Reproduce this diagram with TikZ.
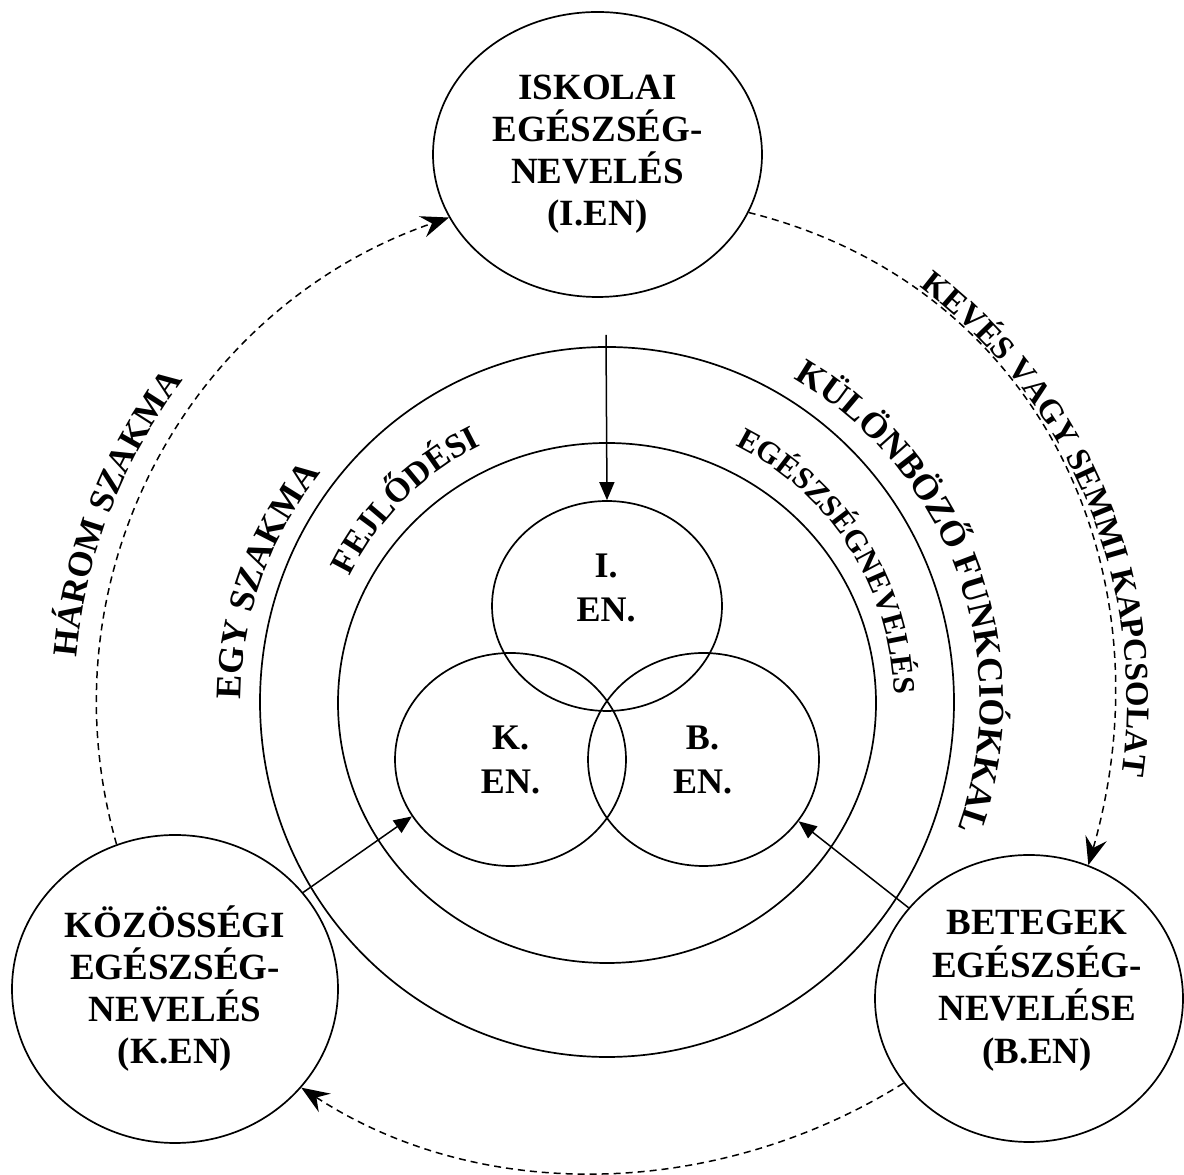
\documentclass[tikz,border=0pt]{standalone}
\usepackage{fontspec}
\setmainfont{Liberation Serif}
\usetikzlibrary{arrows.meta,shapes.geometric,decorations.text,calc}
\newcommand\curvefont[1]{\fontsize{#1}{#1}\selectfont\bfseries}
\tikzset{
  bigell/.style={ellipse, draw, line width=1.7pt, inner sep=0pt, align=center, font=\fontsize{37}{42}\selectfont\bfseries},
  ring/.style={ellipse, draw, line width=1.7pt, inner sep=0pt},
  biglbl/.style={align=center, inner sep=0pt, font=\fontsize{37}{43}\selectfont\bfseries},
  lbl/.style={align=center, inner sep=0pt, font=\fontsize{36}{44}\selectfont\bfseries},
  dashconn/.style={line width=1.5pt, dash pattern=on 7pt off 5pt, -{Stealth[length=28pt,width=22pt,inset=10pt]}},
  solidconn/.style={line width=1.5pt, -{Triangle[length=18pt,width=15pt]}},
  curv/.style={decorate, decoration={text along path, text align=center, #1}},
}
\begin{document}
\begin{tikzpicture}[x=1pt,y=1pt]
\useasboundingbox (0,0) rectangle (1184,1175);
\coordinate (ctr) at (607,473);

% concentric rings
\node[ring, minimum width=694pt, minimum height=710pt] (outer) at (607,473) {};
\node[ring, minimum width=538pt, minimum height=520pt] (middle) at (607,472) {};

% three overlapping circles
\node[ring, minimum width=230pt, minimum height=210pt] (iS) at (607,569) {};
\node[ring, minimum width=231pt, minimum height=213pt] (kS) at (510.5,415.5) {};
\node[ring, minimum width=231pt, minimum height=213pt] (bS) at (703.5,415.5) {};
\node[lbl] (iSt) at (606,587.5) {I.\\EN.};
\node[lbl] (kSt) at (510.5,415) {K.\\EN.};
\node[lbl] (bSt) at (702.5,415) {B.\\EN.};

% big outer nodes
\node[bigell, minimum width=329pt, minimum height=285pt] (iEN) at (597.5,1020.5)
  {ISKOLAI\\EGÉSZSÉG-\\NEVELÉS\\(I.EN)};
\node[bigell, minimum width=326pt, minimum height=308pt] (kEN) at (175,186)
  {KÖZÖSSÉGI\\EGÉSZSÉG-\\NEVELÉS\\(K.EN)};
\node[ring, minimum width=308pt, minimum height=287pt] (bEN) at (1029,176.5) {};
\node[biglbl] (bENt) at (1037,184) {BETEGEK\\EGÉSZSÉG-\\NEVELÉSE\\(B.EN)};

% solid connectors
\coordinate (iStart) at (606,840);
\draw[solidconn] (iStart) -- (iS.north);
\draw[solidconn] (kEN.37.5) -- (kS.210.5);
\draw[solidconn] (bEN.143) -- (bS.-33);

% dashed connectors
\draw[dashconn] (kEN.112) to[out=106, in=199] (iEN.203);
\draw[dashconn] (iEN.-21) to[out=-14, in=74, looseness=1.05] (bEN.66);
\draw[dashconn] (bEN.214.5) to[out=212, in=-33, looseness=0.92] (kEN.-38.4);

% curved texts
\path[curv={text={|\curvefont{35}|HÁROM SZAKMA}}]
  ($(ctr)+(190:532)$) arc[start angle=190, end angle=128, radius=532];
\path[curv={text={|\curvefont{36}|EGY SZAKMA}}]
  ($(ctr)+(195:366)$) arc[start angle=195, end angle=126, radius=366];
\path[curv={text={|\curvefont{34}|FEJLŐDÉSI}}]
  ($(ctr)+(165:286)$) arc[start angle=165, end angle=105, radius=286];
\path[curv={text={|\curvefont{36}|KÜLÖNBÖZŐ FUNKCIÓKKAL}}]
  ($(ctr)+(80:373)$) arc[start angle=80, end angle=-40, radius=373];
\path[curv={text={|\curvefont{31}|EGÉSZSÉGNEVELÉS}}]
  ($(ctr)+(80:287)$) arc[start angle=80, end angle=-15, radius=287];
\path[curv={text={|\curvefont{33}|KEVÉS VAGY SEMMI KAPCSOLAT}}]
  ($(ctr)+(70:520)$) arc[start angle=70, end angle=-25, radius=520];
\end{tikzpicture}
\end{document}
